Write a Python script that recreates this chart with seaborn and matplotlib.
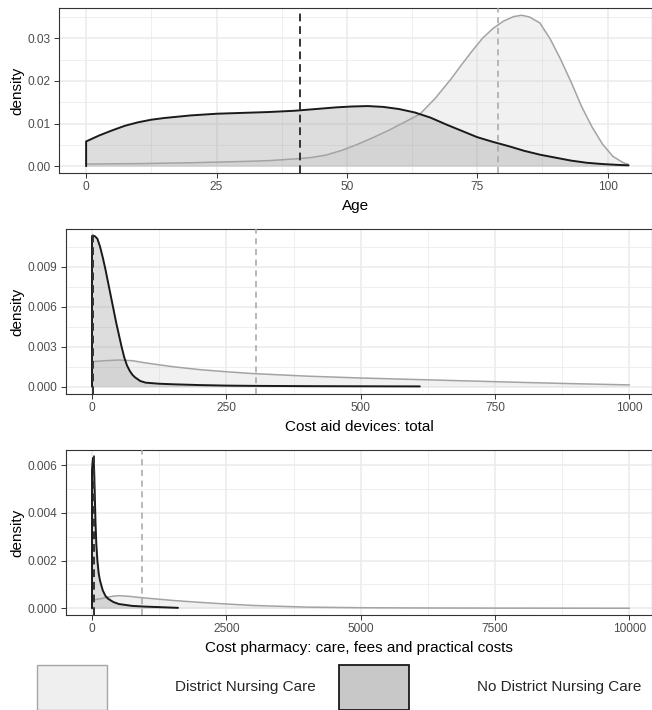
import matplotlib
matplotlib.use("Agg")
import matplotlib.pyplot as plt
from matplotlib.patches import Patch
from matplotlib.ticker import FixedLocator, FormatStrFormatter
import seaborn as sns

# Age panel
age_x_no = [0, 0, 2.5, 5, 7.5, 10, 12.5, 15, 20, 25, 30, 35, 40, 45, 48, 51, 54, 57, 60, 63, 66, 69,
            72, 75, 78, 81, 84, 87, 90, 93, 96, 99, 102, 104]
age_no_dnc = [0, 0.0058, 0.0072, 0.0084, 0.0095, 0.0103, 0.0109, 0.0113, 0.0119, 0.0123, 0.0125,
              0.0127, 0.0130, 0.0135, 0.0138, 0.0140, 0.0141, 0.0139, 0.0134, 0.0126, 0.0114, 0.0098,
              0.0083, 0.0068, 0.0057, 0.0047, 0.0036, 0.0027, 0.0020, 0.0013, 0.0008, 0.0005, 0.0003,
              0.0002]
age_x_dnc = [0, 10, 20, 30, 35, 40, 43, 46, 49, 52, 55, 58, 61, 64, 67, 70, 72, 74, 76, 78, 80, 82,
             83.5, 85, 87, 89, 91, 93, 95, 97, 99, 101, 103, 104]
age_dnc = [0.0005, 0.0006, 0.0008, 0.0011, 0.0013, 0.0017, 0.0020, 0.0026, 0.0037, 0.0051, 0.0067,
           0.0084, 0.0103, 0.0122, 0.0160, 0.0205, 0.0238, 0.0270, 0.0300, 0.0323, 0.0340, 0.0351,
           0.0354, 0.0350, 0.0336, 0.0298, 0.0250, 0.0197, 0.0140, 0.0092, 0.0052, 0.0023, 0.0008,
           0.0004]
age_means = [41, 79]

# Cost aid devices panel
aid_x_no = [0, 0, 5, 10, 15, 20, 25, 30, 35, 40, 45, 50, 55, 60, 65, 70, 75, 80, 90, 100, 125, 150,
            200, 250, 300, 400, 500, 610]
aid_no_dnc = [0, 0.0113, 0.0113, 0.0111, 0.0105, 0.0097, 0.0088, 0.0078, 0.0068, 0.0058, 0.0048,
              0.0039, 0.0030, 0.0022, 0.0016, 0.0012, 0.0009, 0.0007, 0.00042, 0.0003, 0.00022,
              0.00018, 0.00012, 0.00008, 0.00006, 0.00004, 0.00003, 0.00002]
aid_x_dnc = [0, 0, 25, 50, 75, 100, 150, 200, 250, 300, 400, 500, 600, 700, 800, 900, 1000]
aid_dnc = [0, 0.00188, 0.00195, 0.0020, 0.00195, 0.00178, 0.0015, 0.00128, 0.00112, 0.00098,
           0.00079, 0.00065, 0.00054, 0.00043, 0.00032, 0.00022, 0.00013]
aid_means = [1, 305]

# Cost pharmacy panel
pha_x_no = [0, 0, 10, 20, 30, 40, 50, 65, 80, 100, 125, 150, 200, 250, 300, 400, 500, 750, 1000,
            1250, 1600]
pha_no_dnc = [0, 0.0058, 0.0061, 0.0063, 0.0062, 0.0058, 0.0049, 0.0036, 0.0027, 0.0020, 0.00145,
              0.00115, 0.00075, 0.00052, 0.0004, 0.00026, 0.00018, 0.0001, 0.00007, 0.00005, 0.00002]
pha_x_dnc = [0, 0, 100, 200, 300, 400, 500, 700, 900, 1200, 1500, 2000, 2500, 3000, 4000, 5000,
             6000, 7500, 10000]
pha_dnc = [0, 0.00033, 0.00038, 0.00042, 0.00047, 0.00051, 0.00053, 0.0005, 0.00045, 0.00039,
           0.00033, 0.00025, 0.00018, 0.00012, 0.00005, 0.000025, 0.000015, 0.000008, 0.000003]
pha_means = [37, 930]

labels = ["District Nursing Care", "No District Nursing Care"]

sns.set_theme(style="whitegrid")
plt.rcParams['font.family'] = ['Liberation Sans', 'DejaVu Sans']

W, H = 652, 710
fig = plt.figure(figsize=(W / 100, H / 100), dpi=100)

DNC_LINE = '#a3a3a3'
NO_LINE = '#1a1a1a'
DNC_FILL = (0.8, 0.8, 0.8, 0.27)
NO_FILL = (0.6, 0.6, 0.6, 0.33)


def panel(box, xd, yd, xn, yn, means, xlim, ylim, xticks, yticks, xminor, yminor, yfmt, xlabel):
    left, top, right, bottom = box
    ax = fig.add_axes([left / W, 1 - bottom / H, (right - left) / W, (bottom - top) / H])
    ax.set_facecolor('white')
    ax.fill_between(xd, yd, 0, facecolor=DNC_FILL, lw=0, zorder=2)
    ax.fill_between(xn, yn, 0, facecolor=NO_FILL, lw=0, zorder=3)
    sns.lineplot(x=xd, y=yd, ax=ax, color=DNC_LINE, lw=1.1, estimator=None, sort=False, zorder=4)
    sns.lineplot(x=xn, y=yn, ax=ax, color=NO_LINE, lw=1.4, estimator=None, sort=False, zorder=5)
    ax.axvline(means[0], color='#333333', lw=1.4, ls=(0, (4, 2.5)), zorder=6)
    ax.axvline(means[1], color='#a6a6a6', lw=1.1, ls=(0, (4, 3)), zorder=6)
    ax.set_xlim(xlim)
    ax.set_ylim(ylim)
    ax.xaxis.set_major_locator(FixedLocator(xticks))
    ax.yaxis.set_major_locator(FixedLocator(yticks))
    ax.xaxis.set_minor_locator(FixedLocator(xminor))
    ax.yaxis.set_minor_locator(FixedLocator(yminor))
    ax.yaxis.set_major_formatter(FormatStrFormatter(yfmt))
    ax.xaxis.set_major_formatter(FormatStrFormatter('%d'))
    ax.grid(which='major', color='#ebebeb', lw=1.1)
    ax.grid(which='minor', color='#ebebeb', lw=0.55)
    ax.set_axisbelow(True)
    for s in ax.spines.values():
        s.set_color('#333333')
        s.set_linewidth(0.8)
        s.set_visible(True)
    ax.tick_params(which='major', length=3.8, width=0.7, color='#333333', pad=2.2,
                   labelsize=8.6, labelcolor='#4d4d4d', bottom=True, left=True)
    ax.tick_params(which='minor', length=0)
    ax.set_xlabel(xlabel, fontsize=11, color='black', labelpad=4)
    ax.set_ylabel('density', fontsize=11, color='black', labelpad=2.5)
    return ax


panel((59, 8, 652, 173), age_x_dnc, age_dnc, age_x_no, age_no_dnc, age_means,
      (-5.2, 108.5), (-0.0016, 0.0371), [0, 25, 50, 75, 100], [0, 0.01, 0.02, 0.03],
      [12.5, 37.5, 62.5, 87.5], [0.005, 0.015, 0.025, 0.035], '%.2f', 'Age')

panel((66, 229, 652, 394), aid_x_dnc, aid_dnc, aid_x_no, aid_no_dnc, aid_means,
      (-48.4, 1042), (-0.00055, 0.01183), [0, 250, 500, 750, 1000], [0, 0.003, 0.006, 0.009],
      [125, 375, 625, 875], [0.0015, 0.0045, 0.0075, 0.0105], '%.3f', 'Cost aid devices: total')

panel((66, 450, 652, 615), pha_x_dnc, pha_dnc, pha_x_no, pha_no_dnc, pha_means,
      (-484, 10420), (-0.00028, 0.00663), [0, 2500, 5000, 7500, 10000], [0, 0.002, 0.004, 0.006],
      [1250, 3750, 6250, 8750], [0.001, 0.003, 0.005], '%.3f',
      'Cost pharmacy: care, fees and practical costs')

handles = [Patch(facecolor='#efefef', edgecolor='#a6a6a6', lw=1.0),
           Patch(facecolor='#c8c8c8', edgecolor='#1a1a1a', lw=1.3)]
fs = 11
fpx = fs * 100 / 72
fig.legend(handles=handles, labels=labels, ncol=2, loc='lower left',
           bbox_to_anchor=(37 / W, 0.5 / H), frameon=False, fontsize=fs,
           handlelength=70 / fpx, handleheight=4.15, handletextpad=68 / fpx,
           columnspacing=23 / fpx, borderpad=0, borderaxespad=0)

fig.savefig('out.png', dpi=100)
